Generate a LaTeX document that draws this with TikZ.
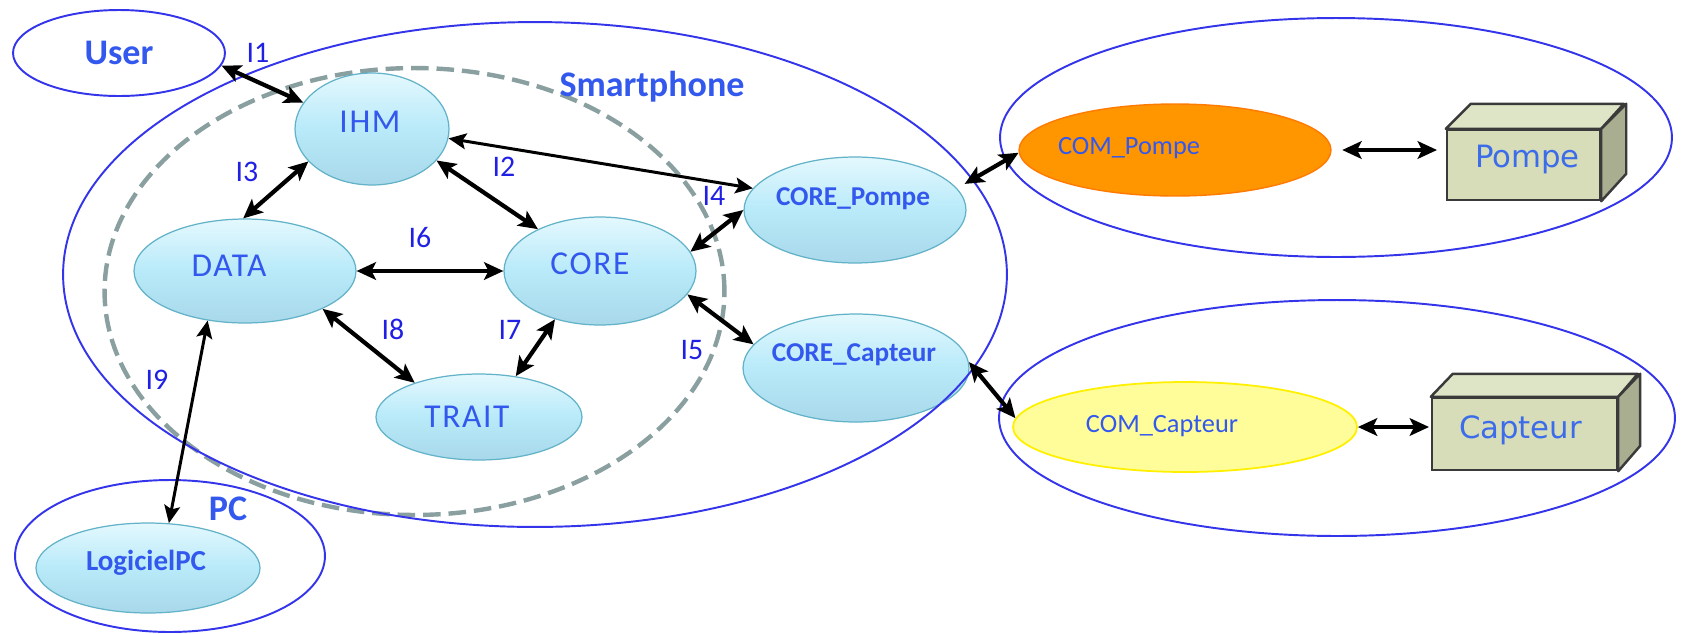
\documentclass[tikz,border=0pt]{standalone}
\usepackage{fontspec}
\setmainfont{Carlito}
\newfontfamily\boxfont{DejaVu Sans}
\usetikzlibrary{shapes.geometric,arrows.meta}
\definecolor{outl}{HTML}{3434EA}
\definecolor{txtb}{HTML}{3358EE}
\definecolor{lblb}{HTML}{2020E4}
\definecolor{cyanT}{HTML}{E4F8FE}
\definecolor{cyanM}{HTML}{B8EAF9}
\definecolor{cyanB}{HTML}{A8D8EA}
\definecolor{cyanD}{HTML}{62B2C8}
\definecolor{dashc}{HTML}{8A9FA0}
\definecolor{orangeF}{HTML}{FF9600}
\definecolor{orangeD}{HTML}{FF7A00}
\definecolor{yelF}{HTML}{FFFD99}
\definecolor{yelD}{HTML}{FFF000}
\definecolor{boxF}{HTML}{D6DDB8}
\definecolor{boxT}{HTML}{DEE5C6}
\definecolor{boxS}{HTML}{A9AE90}
\definecolor{boxD}{HTML}{3A3A3A}
\definecolor{boxTxt}{HTML}{3C6CEA}
\begin{document}
\begin{tikzpicture}[x=0.02cm,y=-0.02cm,
  comp/.style={ellipse, draw=cyanD, line width=0.7pt, top color=cyanT, bottom color=cyanB, middle color=cyanM, inner sep=0pt},
  ntxt/.style={text=txtb, font=\fontsize{19}{19}\selectfont\addfontfeature{LetterSpace=5}},
  btxt/.style={text=txtb, font=\bfseries\fontsize{15.5}{15.5}\selectfont},
  stxt/.style={text=txtb, font=\fontsize{15}{15}\selectfont},
  xtxt/.style={text=boxTxt, font=\boxfont\fontsize{17.5}{17.5}\selectfont},
  container/.style={ellipse, draw=outl, line width=1.1pt, inner sep=0pt},
  cname/.style={text=txtb, font=\bfseries\fontsize{20.5}{20.5}\selectfont},
  arr/.style={{Stealth[length=11pt,width=10pt,inset=2.5pt]}-{Stealth[length=11pt,width=10pt,inset=2.5pt]}, line width=2.4pt, black},
  arrthin/.style={{Stealth[length=10pt,width=9pt,inset=2pt]}-{Stealth[length=10pt,width=9pt,inset=2pt]}, line width=1.7pt, black},
  lbl/.style={text=lblb, font=\fontsize{17}{17}\selectfont},
  boxface/.style={rectangle, draw=boxD, line width=1.4pt, fill=boxF, inner sep=0pt},
  boxtop/.style={draw=boxD, line width=1.4pt, fill=boxT, line join=round},
  boxside/.style={draw=boxD, line width=1.4pt, fill=boxS, line join=round}
]
\useasboundingbox[fill=white] (0,0) rectangle (1681,633);

% dashed group
\node[ellipse, draw=dashc, line width=2.5pt, dash pattern=on 10pt off 4.5pt, minimum width=12.4cm, minimum height=8.94cm, inner sep=0pt] (grp) at (414.5,291.5) {};

% components
\node[comp, minimum width=3.08cm, minimum height=2.24cm, label={[ntxt, shift={(-2,-7)}]center:IHM}] (ihm) at (372,129) {};
\node[comp, minimum width=4.44cm, minimum height=2.08cm, label={[ntxt, shift={(-16,-5)}]center:DATA}] (data) at (245,271) {};
\node[comp, minimum width=3.84cm, minimum height=2.16cm, label={[ntxt, shift={(-10,-7)}]center:CORE}] (core) at (600,271) {};
\node[comp, minimum width=4.12cm, minimum height=1.72cm, label={[ntxt, shift={(-12,0)}]center:TRAIT}] (trait) at (479,417) {};
\node[comp, minimum width=4.44cm, minimum height=2.12cm, label={[btxt, shift={(-2,-11)}]center:CORE\_Pompe}] (cpompe) at (855,210) {};
\node[comp, minimum width=4.52cm, minimum height=2.16cm, label={[btxt, shift={(-2,-13)}]center:CORE\_Capteur}] (ccapteur) at (856,368) {};
\node[comp, minimum width=4.48cm, minimum height=1.8cm, label={[btxt, font=\bfseries\fontsize{16.5}{16.5}\selectfont, shift={(-2,-5)}]center:LogicielPC}] (logpc) at (148,568) {};

\node[ellipse, draw=orangeD, line width=0.8pt, fill=orangeF, inner sep=0pt, minimum width=6.24cm, minimum height=1.84cm, label={[stxt, shift={(-46,-2)}]center:COM\_Pompe}] (compompe) at (1175,150) {};
\node[ellipse, draw=yelD, line width=1pt, fill=yelF, inner sep=0pt, minimum width=6.88cm, minimum height=1.8cm, label={[stxt, shift={(-23,-1)}]center:COM\_Capteur}] (comcapteur) at (1185,427) {};

% boxes
\node[boxface, minimum width=3.06cm, minimum height=1.4cm, label={[xtxt, shift={(4,-6)}]center:Pompe}] (pompe) at (1523.5,165) {};
\path[boxtop] (pompe.north west) -- ++(25,-25) -- ++(153,0) -- (pompe.north east) -- cycle;
\path[boxside] (pompe.north east) -- ++(25,-25) -- ++(0,70) -- (pompe.south east) -- cycle;
\node[boxface, minimum width=3.7cm, minimum height=1.44cm, label={[xtxt, shift={(-4,-4)}]center:Capteur}] (capteur) at (1524.5,434) {};
\path[boxtop] (capteur.north west) -- ++(22,-23) -- ++(185,0) -- (capteur.north east) -- cycle;
\path[boxside] (capteur.north east) -- ++(22,-23) -- ++(0,72) -- (capteur.south east) -- cycle;

% containers
\node[container, minimum width=4.24cm, minimum height=1.72cm, cname] (user) at (119,53) {User};
\node[container, minimum width=18.88cm, minimum height=10.1cm] (phone) at (535,274.5) {};
\node[container, minimum width=6.2cm, minimum height=3.04cm] (pc) at (170,556) {};
\node[container, minimum width=13.44cm, minimum height=4.78cm] (pompec) at (1336,137.5) {};
\node[container, minimum width=13.52cm, minimum height=4.72cm] (capteurc) at (1337,418) {};
\node[cname] (phonelbl) at (652,87) {Smartphone};
\node[cname] (pclbl) at (228,509) {PC};

% connectors
\draw[arr] (user.-7) -- (ihm.159);
\draw[arr] (ihm.207) -- (data.92);
\draw[arr] (ihm.-26) -- (core.146);
\draw[arrthin] (ihm.-7) -- (cpompe.168);
\draw[arr] (data.east) -- (core.west);
\draw[arr] (data.-26) -- (trait.152);
\draw[arr] (core.227) -- (trait.48);
\draw[arr] (core.12) -- (cpompe.180);
\draw[arr] (core.-15) -- (ccapteur.167);
\draw[arrthin] (data.233) -- (logpc.65);
\draw[arr, shorten <=5pt] (cpompe.12) -- (compompe.181);
\draw[arr] (ccapteur.3) -- (comcapteur.177);
\draw[arr, shorten <=6pt, shorten >=5pt] (compompe.east) -- (compompe.east -| pompe.west);
\draw[arr, shorten >=1pt] (comcapteur.east) -- (comcapteur.east -| capteur.west);

% interface labels
\node[lbl] (l1) at (258,53) {I1};
\node[lbl] (l2) at (504,167) {I2};
\node[lbl] (l3) at (247,172) {I3};
\node[lbl] (l4) at (714,196) {I4};
\node[lbl] (l5) at (692,350) {I5};
\node[lbl] (l6) at (420,238) {I6};
\node[lbl] (l7) at (510,330) {I7};
\node[lbl] (l8) at (393,329) {I8};
\node[lbl] (l9) at (157,380) {I9};
\end{tikzpicture}
\end{document}
